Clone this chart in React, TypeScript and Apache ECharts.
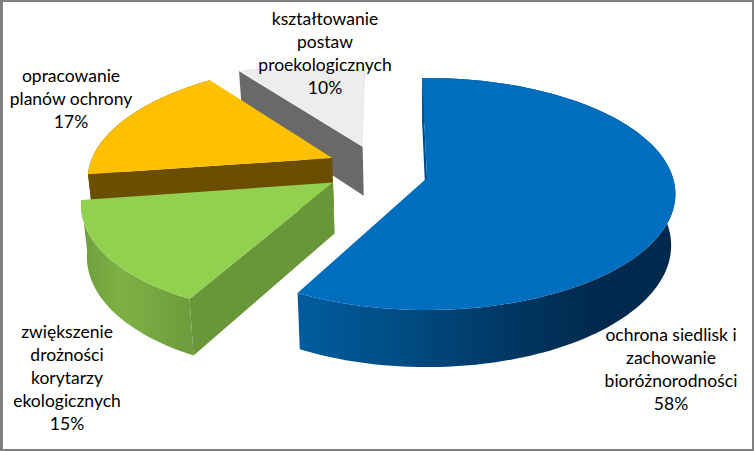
import React, { useEffect, useRef } from "react";
import * as echarts from "echarts";

const categories = [
  "ochrona siedlisk i\nzachowanie\nbioróżnorodności",
  "zwiększenie\ndrożności\nkorytarzy\nekologicznych",
  "opracowanie\nplanów ochrony",
  "kształtowanie\npostaw\nproekologicznych",
];
const percents = [58, 15, 17, 10];
const drawOrder = [3, 2, 1, 0];
const topColors = ["#006EBE", "#92D050", "#FFC000", "#EDEDED"];
const sideColors = ["#004C85", "#6A963A", "#6B4E00", "#696969"];
const arcStops: [number, string][][] = [
  [[0, "#005C9F"], [0.3, "#004A80"], [0.6, "#00345F"], [0.8, "#00294D"], [1, "#00294D"]],
  [[0, "#6E9E3D"], [0.35, "#7DB145"], [1, "#6C9C3C"]],
  [[0, "#6B4E00"], [1, "#6B4E00"]],
  [[0, "#696969"], [1, "#696969"]],
];
const explode: [number, number][] = [[0, 0], [-0.38, 0.04], [-0.395, -0.18], [-0.272, -0.285]];
const rimFloor = [0, 0, 0, 69];
const labelPos: [number, number][] = [[671, 369], [67, 377], [71, 98], [325, 53]];

const cx = 427, cy = 178, ra = 246, rb = 113.8, k = 0.138, startDeg = -1.3;
const topPt = (X: number, Z: number): [number, number] => {
  const d = 1 - k * Z;
  return [cx + (ra * X) / d, cy + (rb * Z) / d];
};
const botPt = (p: [number, number]): [number, number] => [
  cx + (p[0] - cx) * 0.983,
  cy + 50.6 + (p[1] - cy) * 1.049,
];

function renderSlice(params: any, api: any) {
  const i = api.value(1);
  const before = percents.slice(0, i).reduce((a, b) => a + b, 0);
  const a0 = startDeg + (before * 360) / 100;
  const a1 = a0 + (api.value(0) * 360) / 100;
  const [dx, dz] = explode[i];
  const at = (deg: number): [number, number] => {
    const t = (deg * Math.PI) / 180;
    const p = topPt(Math.sin(t) + dx, -Math.cos(t) + dz);
    return [p[0], Math.max(p[1], rimFloor[i])];
  };
  const apex = topPt(dx, dz);
  const arc: [number, number][] = [];
  const n = Math.max(8, Math.round((a1 - a0) / 1.5));
  for (let j = 0; j <= n; j++) arc.push(at(a0 + ((a1 - a0) * j) / n));
  const botArc = arc.map(botPt);
  const mid = at((a0 + a1) / 2);
  const children: any[] = [];
  const radial = (end: [number, number]) => {
    const t = (mid[0] - apex[0]) / (end[0] - apex[0]);
    const lineY = apex[1] + t * (end[1] - apex[1]);
    if (mid[1] < lineY) {
      children.push({
        type: "polygon",
        shape: { points: [apex, end, botPt(end), botPt(apex)] },
        style: { fill: sideColors[i] },
      });
    }
  };
  if (i !== 3) {
    children.push({
      type: "polygon",
      shape: { points: arc.concat(botArc.slice().reverse()) },
      style: {
        fill: new echarts.graphic.LinearGradient(
          0, 0, 1, 0,
          arcStops[i].map(([offset, color]) => ({ offset, color })),
        ),
      },
    });
    radial(arc[arc.length - 1]);
  }
  radial(arc[0]);
  children.push({
    type: "polygon",
    shape: { points: [apex, ...arc] },
    style: { fill: topColors[i] },
  });
  return { type: "group", children };
}

function renderLabel(params: any, api: any) {
  const i = api.value(1);
  return {
    type: "text",
    x: labelPos[i][0],
    y: labelPos[i][1],
    style: {
      text: `${categories[i]}\n${api.value(0)}%`,
      fill: "#000",
      font: "17.5px Lato",
      lineHeight: 23,
      align: "center",
      verticalAlign: "middle",
    },
  };
}

export default function App() {
  const ref = useRef<HTMLDivElement>(null);
  useEffect(() => {
    const chart = echarts.init(ref.current!, undefined, { renderer: "svg" });
    const data = drawOrder.map((idx) => [percents[idx], idx]);
    chart.setOption({
      animation: false,
      backgroundColor: "#fff",
      series: [
        { type: "custom", coordinateSystem: "none", data, renderItem: renderSlice, z: 1 },
        { type: "custom", coordinateSystem: "none", data, renderItem: renderLabel, z: 2 },
      ],
    });
    return () => chart.dispose();
  }, []);
  return (
    <div style={{ position: "fixed", left: 0, top: 0, width: 754, height: 451 }}>
      <div ref={ref} style={{ position: "absolute", left: 0, top: 0, width: 754, height: 451 }} />
      <div
        style={{
          position: "absolute", left: 0, top: 0, width: 754, height: 451, boxSizing: "border-box",
          borderStyle: "solid", borderColor: "#808080", borderWidth: "2px 2px 2px 3px", pointerEvents: "none",
        }}
      />
    </div>
  );
}
